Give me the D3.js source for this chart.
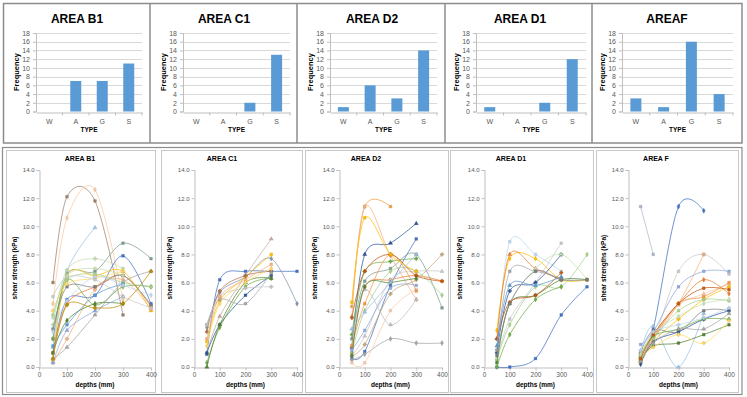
<!DOCTYPE html>
<html>
<head>
<meta charset="utf-8">
<script src="https://cdn.jsdelivr.net/npm/d3@7"></script>
<style>
  body { margin: 0; background: #fff; }
  text { font-family: "Liberation Sans", Arial, sans-serif; }
</style>
</head>
<body>
<div id="chart"></div>
<script>
// ---- data ----
var types = ["W", "A", "G", "S"];
var barTitles = ["AREA B1", "AREA C1", "AREA D2", "AREA D1", "AREAF"];
var freqB1 = [0, 7, 7, 11];
var freqC1 = [0, 0, 2, 13];
var freqD2 = [1, 6, 3, 14];
var freqD1 = [1, 0, 2, 12];
var freqF = [3, 1, 16, 4];
var freqTicks = [0, 2, 4, 6, 8, 10, 12, 14, 16, 18];

var lineTitles = ["AREA B1", "AREA C1", "AREA D2", "AREA D1", "AREA F"];
var depths = [50, 100, 200, 300, 400];
var depthTicks = [0, 100, 200, 300, 400];
var shearTicks = [0, 2, 4, 6, 8, 10, 12, 14];

// shear strength at each depth, null = not measured
var shearB1 = [
  [6.0, 12.1, 11.8, 3.7, null],
  [4.5, 10.6, 12.6, 4.8, null],
  [1.4, 6.8, 9.9, null, null],
  [2.0, 6.6, 6.8, 8.8, 7.7],
  [3.0, 6.9, 7.7, 7.0, null],
  [1.0, 4.8, 5.1, 7.9, 4.5],
  [2.0, 6.2, 4.4, 5.7, 5.7],
  [0.5, 6.5, 6.5, 6.8, 4.0],
  [1.0, 4.5, 5.7, 6.5, 4.3],
  [0.3, 2.0, 5.5, 6.2, 4.1],
  [2.7, 5.7, 5.7, 6.5, 4.4],
  [1.0, 3.3, 4.5, 4.5, null],
  [0.6, 1.4, 3.7, 6.0, 6.8],
  [3.7, 6.2, 6.6, 6.0, 5.7],
  [4.0, 5.9, 6.3, 6.8, null],
  [1.5, 3.0, 5.1, 5.9, null],
  [2.5, 4.7, 6.4, 5.8, 5.1],
  [0.3, 2.6, 4.0, 5.0, null],
  [5.0, 6.4, 6.2, 5.0, 4.2],
  [0.6, 4.4, 4.2, 4.5, 6.8],
  [3.5, 6.5, 7.0, 6.5, null]
];
var colorsB1 = ["#9C8470", "#F8C9A0", "#9DC3E6", "#7F9F8F", "#C5E0B4", "#4472C4", "#70AD47",
  "#FFC000", "#ED7D31", "#F4B183", "#7F7F7F", "#548235", "#A5A5A5", "#A9D18E", "#FFD966",
  "#5B9BD5", "#BDD7EE", "#8FAADC", "#C9C9C9", "#BF9000", "#C5E0B4"];

var shearC1 = [
  [0.9, 6.2, 6.8, 6.8, 6.8],
  [2.8, 5.3, 6.4, 7.7, 4.5],
  [1.0, 3.6, 6.5, 9.1, null],
  [1.8, 4.7, 6.4, 8.0, null],
  [2.5, 5.4, 6.5, 6.8, null],
  [1.0, 3.0, 5.1, 6.5, null],
  [0.3, 2.8, 5.7, 6.3, null],
  [0.0, 3.0, 6.0, 6.3, null],
  [3.0, 4.8, 4.5, 6.7, null],
  [3.0, 5.0, 5.6, 5.7, null],
  [2.0, 5.0, 6.2, 7.3, null],
  [1.5, 4.5, 6.0, 7.0, null]
];
var colorsC1 = ["#4472C4", "#8497B0", "#C9A8A0", "#FFC000", "#B07050", "#2F5597", "#70AD47",
  "#548235", "#A5A5A5", "#C9C9C9", "#F4B183", "#FFD966"];

var shearD2 = [
  [4.3, 11.4, 11.4, null, null],
  [3.6, 11.4, 7.9, 4.8, null],
  [1.4, 8.0, 8.8, 10.2, null],
  [0.6, 1.1, 5.8, 9.1, null],
  [2.3, 6.8, 7.5, 7.7, null],
  [1.0, 5.7, 6.2, 6.5, 6.1],
  [0.5, 0.9, 2.0, 1.7, 1.7],
  [1.5, 5.5, 3.0, 4.8, null],
  [0.3, 0.3, 4.0, 5.5, null],
  [0.8, 1.6, 5.2, 6.2, 8.0],
  [2.0, 6.1, 7.0, 8.0, 4.2],
  [1.0, 4.0, 6.8, 6.8, 5.1],
  [0.8, 2.2, 6.2, 6.8, 6.8],
  [1.5, 4.5, 8.0, 5.4, null],
  [3.5, 6.8, 8.0, 6.5, 6.1],
  [4.6, 10.6, 8.0, 6.8, null],
  [0.8, 5.7, 6.0, 6.3, null],
  [2.7, 3.9, 6.0, 8.0, null],
  [1.2, 2.6, 5.6, 5.8, null]
];
var colorsD2 = ["#F0A040", "#F4B183", "#2F5597", "#4472C4", "#70AD47", "#ED7D31", "#A5A5A5",
  "#BFBFBF", "#F8CBAD", "#C5A880", "#7F9F8F", "#A9D18E", "#C9C9C9", "#F79646", "#C55A11",
  "#FFC000", "#548235", "#9DC3E6", "#8FAADC"];

var shearD1 = [
  [1.2, 8.9, 8.0, 6.8, null],
  [2.6, 7.7, 7.7, 6.2, 6.2],
  [2.0, 8.0, 7.0, 6.2, null],
  [0.5, 3.4, 6.0, 8.8, null],
  [1.0, 5.4, 6.0, 8.0, null],
  [0.0, 0.0, 0.6, 3.7, 5.7],
  [0.5, 3.0, 5.7, 5.7, 8.0],
  [0.6, 4.5, 7.0, 8.0, 6.2],
  [0.3, 4.5, 5.1, 6.2, 6.2],
  [2.0, 4.6, 5.1, 6.7, null],
  [1.2, 6.8, 6.8, 6.3, null],
  [0.0, 2.3, 4.8, 5.7, null],
  [1.5, 5.8, 5.8, 6.4, null],
  [0.8, 4.5, 6.8, 6.2, 6.2]
];
var colorsD1 = ["#BDD7EE", "#FFC000", "#ED7D31", "#C9C9C9", "#2F5597", "#4472C4", "#A9D18E",
  "#C5E0B4", "#548235", "#C55A11", "#A5A5A5", "#70AD47", "#5B9BD5", "#7F7F7F"];

var shearF = [
  [11.4, 8.0, null, null, null],
  [0.6, 2.7, 11.4, 11.1, null],
  [1.0, 2.9, 0.0, 3.8, null],
  [0.8, 1.8, 6.8, 8.0, 6.6],
  [0.4, 2.0, 4.5, 8.0, null],
  [1.6, 2.5, 5.7, 6.8, 6.8],
  [0.9, 2.2, 4.5, 6.2, 5.2],
  [0.7, 2.3, 4.4, 5.2, 5.9],
  [0.5, 2.0, 4.5, 5.0, 6.0],
  [0.3, 1.8, 3.4, 4.8, 5.7],
  [1.0, 2.6, 2.5, 4.0, 4.0],
  [0.2, 1.8, 2.5, 3.4, 4.0],
  [0.8, 2.2, 2.7, 3.4, 3.4],
  [0.5, 1.5, 1.7, 2.3, 3.0],
  [0.6, 1.4, 2.3, 1.7, 3.3],
  [0.7, 2.0, 4.0, 4.8, 4.7],
  [0.9, 2.4, 3.6, 4.5, 4.8],
  [0.4, 1.7, 2.7, 2.7, 3.8],
  [0.6, 2.3, 4.5, 5.6, 5.5],
  [1.2, 2.5, 3.0, 3.5, 4.2]
];
var colorsF = ["#ADB9CA", "#4472C4", "#9DC3E6", "#C9C9C9", "#F4B183", "#8FAADC", "#ED7D31",
  "#F8CBAD", "#F79646", "#FFC000", "#7F7F7F", "#2F5597", "#70AD47", "#548235", "#FFD966",
  "#A9D18E", "#C5E0B4", "#A5A5A5", "#C55A11", "#BDD7EE"];

var W = 747, H = 397;
var svg = d3.select("#chart").append("svg")
  .attr("width", W).attr("height", H);

// ---- frames ----
svg.append("rect").attr("x", 3.5).attr("y", 3.5).attr("width", 738.5).attr("height", 139.5)
  .attr("fill", "none").attr("stroke", "#8c8c8c").attr("stroke-width", 1.5);
[150, 297, 445, 592].forEach(function(x) {
  svg.append("line").attr("x1", x).attr("x2", x).attr("y1", 4).attr("y2", 143)
    .attr("stroke", "#8c8c8c").attr("stroke-width", 1.5);
});
svg.append("rect").attr("x", 2.5).attr("y", 147.5).attr("width", 739.5).attr("height", 247)
  .attr("fill", "none").attr("stroke", "#8c8c8c").attr("stroke-width", 1.2);
[[6, 155], [161, 302], [305, 448], [450, 593], [596, 738]].forEach(function(p) {
  svg.append("rect").attr("x", p[0] + 0.5).attr("y", 150.5).attr("width", p[1] - p[0]).attr("height", 242)
    .attr("fill", "none").attr("stroke", "#c8c8c8").attr("stroke-width", 1);
});

// ---- bar charts ----
var barPanels = [
  { left: 36, right: 142, cx: 77, data: freqB1 },
  { left: 183, right: 290, cx: 224, data: freqC1 },
  { left: 330, right: 437, cx: 372, data: freqD2 },
  { left: 476, right: 586, cx: 520, data: freqD1 },
  { left: 622, right: 733, cx: 667, data: freqF }
];

barPanels.forEach(function(p, i) {
  var g = svg.append("g");
  var x = d3.scaleBand().domain(types).range([p.left, p.right]);
  var y = d3.scaleLinear().domain([0, 18]).range([111.5, 33]);

  // gridlines
  g.selectAll(".grid").data(freqTicks.slice(1)).enter().append("line")
    .attr("x1", p.left).attr("x2", p.right)
    .attr("y1", function(d) { return Math.round(y(d)) + 0.5; })
    .attr("y2", function(d) { return Math.round(y(d)) + 0.5; })
    .attr("stroke", "#d9d9d9").attr("stroke-width", 1);

  var yAxis = g.append("g").attr("transform", "translate(" + p.left + ",0)")
    .call(d3.axisLeft(y).tickValues(freqTicks).tickSize(3).tickPadding(3));
  yAxis.select(".domain").attr("stroke", "#bfbfbf");
  yAxis.selectAll(".tick line").attr("stroke", "#bfbfbf");
  yAxis.selectAll("text").attr("fill", "#595959").style("font-size", "7px");

  var xAxis = g.append("g").attr("transform", "translate(0," + Math.round(y(0)) + ".5)")
    .call(d3.axisBottom(x).tickSize(3).tickPadding(4).tickSizeOuter(0));
  xAxis.select(".domain").attr("stroke", "#bfbfbf");
  xAxis.selectAll(".tick line").attr("stroke", "#bfbfbf")
    .attr("transform", "translate(" + (x.bandwidth() / 2) + ",0)");
  xAxis.selectAll("text").attr("fill", "#595959").style("font-size", "7px");

  g.selectAll(".bar").data(p.data).enter().append("rect")
    .attr("x", function(d, j) { return x(types[j]) + x.bandwidth() / 2 - 5.5; })
    .attr("width", 11)
    .attr("y", function(d) { return y(d); })
    .attr("height", function(d) { return y(0) - y(d); })
    .attr("fill", "#5B9BD5");

  g.append("text").attr("x", p.cx).attr("y", 23).attr("text-anchor", "middle")
    .style("font-size", "12px").style("font-weight", "bold").attr("fill", "#000")
    .text(barTitles[i]);
  g.append("text").attr("x", (p.left + p.right) / 2).attr("y", 132).attr("text-anchor", "middle")
    .style("font-size", "6.5px").style("font-weight", "bold").attr("fill", "#000")
    .text("TYPE");
  g.append("text").attr("transform", "translate(" + (p.left - 17) + ",72) rotate(-90)")
    .attr("text-anchor", "middle").style("font-size", "7.5px").style("font-weight", "bold")
    .text("Frequency");
});

// ---- line charts ----
var linePanels = [
  { x0: 39, x1: 151, cx: 80, data: shearB1, colors: colorsB1 },
  { x0: 194, x1: 297, cx: 222, data: shearC1, colors: colorsC1 },
  { x0: 339, x1: 442, cx: 366, data: shearD2, colors: colorsD2 },
  { x0: 484, x1: 587, cx: 511, data: shearD1, colors: colorsD1 },
  { x0: 628, x1: 729, cx: 656, data: shearF, colors: colorsF }
];
var symbols = [d3.symbolSquare, d3.symbolDiamond, d3.symbolTriangle, d3.symbolSquare, d3.symbolCross];

linePanels.forEach(function(p, i) {
  var g = svg.append("g");
  var x = d3.scaleLinear().domain([0, 400]).range([p.x0, p.x1]);
  var y = d3.scaleLinear().domain([0, 14]).range([367, 170]);

  var yAxis = g.append("g").attr("transform", "translate(" + p.x0 + ".5,0)")
    .call(d3.axisLeft(y).tickValues(shearTicks).tickFormat(d3.format(".1f")).tickSize(3).tickPadding(2));
  yAxis.select(".domain").attr("stroke", "#bfbfbf");
  yAxis.selectAll(".tick line").attr("stroke", "#bfbfbf");
  yAxis.selectAll("text").attr("fill", "#595959").style("font-size", "6px");

  var xAxis = g.append("g").attr("transform", "translate(0,367.5)")
    .call(d3.axisBottom(x).tickValues(depthTicks).tickSize(3).tickPadding(2).tickSizeOuter(0));
  xAxis.select(".domain").attr("stroke", "#bfbfbf");
  xAxis.selectAll(".tick line").attr("stroke", "#bfbfbf");
  xAxis.selectAll("text").attr("fill", "#595959").style("font-size", "6.5px");

  var line = d3.line()
    .x(function(d) { return x(d.depth); })
    .y(function(d) { return y(d.v); })
    .curve(d3.curveCardinal.tension(0));

  p.data.forEach(function(row, k) {
    var pts = [];
    row.forEach(function(v, j) { if (v !== null) pts.push({ depth: depths[j], v: v }); });
    var c = p.colors[k % p.colors.length];
    g.append("path").datum(pts).attr("d", line)
      .attr("fill", "none").attr("stroke", c).attr("stroke-width", 0.9)
      .attr("stroke-opacity", 0.85);
    g.selectAll(".m" + k).data(pts).enter().append("path")
      .attr("transform", function(d) { return "translate(" + x(d.depth) + "," + y(d.v) + ")"; })
      .attr("d", d3.symbol().type(symbols[k % symbols.length]).size(7))
      .attr("fill", c).attr("stroke", d3.color(c).darker(0.4)).attr("stroke-width", 0.4);
  });

  g.append("text").attr("x", p.cx).attr("y", 161).attr("text-anchor", "middle")
    .style("font-size", "7px").style("font-weight", "bold").text(lineTitles[i]);
  g.append("text").attr("x", (p.x0 + p.x1) / 2).attr("y", 387).attr("text-anchor", "middle")
    .style("font-size", "6.5px").style("font-weight", "bold").text("depths (mm)");
  g.append("text").attr("transform", "translate(" + (p.x0 - 22) + ",268) rotate(-90)")
    .attr("text-anchor", "middle").style("font-size", "6.5px").style("font-weight", "bold")
    .text(i === 4 ? "shear strengths (kPa)" : "shear strength (kPa)");
});
</script>
</body>
</html>
